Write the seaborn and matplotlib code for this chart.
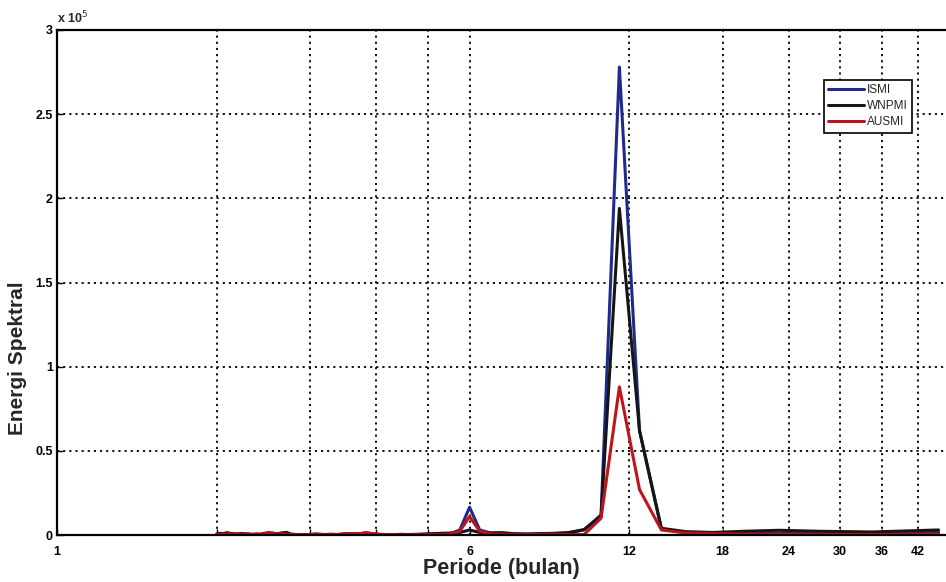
import numpy as np
import pandas as pd
import matplotlib
matplotlib.use("Agg")
import matplotlib.pyplot as plt
import seaborn as sns
from matplotlib.ticker import FixedLocator, FuncFormatter, NullLocator

# periode (bulan), sumbu x log
periode = [2.00, 2.03, 2.06, 2.09, 2.12, 2.16, 2.19, 2.23, 2.26, 2.30,
           2.34, 2.38, 2.42, 2.46, 2.51, 2.56, 2.60, 2.65, 2.71, 2.76,
           2.82, 2.88, 2.94, 3.00, 3.07, 3.14, 3.21, 3.29, 3.37, 3.45,
           3.54, 3.63, 3.73, 3.83, 3.94, 4.06, 4.18, 4.31, 4.45, 4.60,
           4.76, 4.93, 5.11, 5.31, 5.52, 5.75, 6.00, 6.27, 6.57, 6.90,
           7.26, 7.67, 8.12, 8.63, 9.20, 9.86, 10.62, 11.50, 12.55, 13.80,
           15.33, 17.25, 19.71, 23.00, 27.60, 34.50, 46.00]

# energi spektral (x 10^5)
ismi = [0.004, 0.006, 0.005, 0.008, 0.007, 0.005, 0.004, 0.006, 0.005, 0.004,
        0.003, 0.004, 0.003, 0.006, 0.009, 0.007, 0.004, 0.005, 0.006, 0.003,
        0.002, 0.001, 0.001, 0.002, 0.004, 0.003, 0.002, 0.003, 0.002, 0.004,
        0.006, 0.005, 0.007, 0.010, 0.006, 0.003, 0.002, 0.001, 0.002, 0.001,
        0.002, 0.004, 0.005, 0.004, 0.008, 0.030, 0.165, 0.030, 0.012, 0.010,
        0.006, 0.004, 0.006, 0.008, 0.012, 0.030, 0.120, 2.780, 0.620, 0.035,
        0.015, 0.010, 0.008, 0.010, 0.012, 0.008, 0.015]
wnpmi = [0.006, 0.010, 0.008, 0.014, 0.010, 0.007, 0.006, 0.009, 0.007, 0.006,
         0.004, 0.006, 0.005, 0.010, 0.014, 0.011, 0.007, 0.012, 0.016, 0.006,
         0.003, 0.002, 0.002, 0.003, 0.006, 0.004, 0.003, 0.005, 0.003, 0.006,
         0.008, 0.006, 0.008, 0.011, 0.007, 0.004, 0.003, 0.002, 0.004, 0.003,
         0.004, 0.006, 0.008, 0.010, 0.012, 0.015, 0.030, 0.015, 0.012, 0.014,
         0.008, 0.006, 0.008, 0.010, 0.014, 0.032, 0.110, 1.940, 0.620, 0.040,
         0.020, 0.015, 0.022, 0.028, 0.022, 0.018, 0.030]
ausmi = [0.003, 0.005, 0.004, 0.007, 0.006, 0.005, 0.004, 0.005, 0.004, 0.004,
         0.003, 0.004, 0.003, 0.008, 0.012, 0.009, 0.004, 0.006, 0.005, 0.003,
         0.002, 0.001, 0.001, 0.002, 0.004, 0.003, 0.002, 0.003, 0.002, 0.004,
         0.007, 0.006, 0.008, 0.015, 0.008, 0.003, 0.002, 0.001, 0.001, 0.001,
         0.001, 0.002, 0.003, 0.003, 0.006, 0.022, 0.110, 0.022, 0.006, 0.004,
         0.003, 0.002, 0.003, 0.004, 0.003, 0.002, 0.100, 0.880, 0.270, 0.030,
         0.012, 0.008, 0.005, 0.004, 0.004, 0.003, 0.005]

seri = ['ISMI', 'WNPMI', 'AUSMI']
warna = {'ISMI': '#1f2a8c', 'WNPMI': '#151515', 'AUSMI': '#c0141c'}

x_ticks = [1, 2, 3, 4, 5, 6, 12, 18, 24, 30, 36, 42]
x_labels = ['1', '', '', '', '', '6', '12', '18', '24', '30', '36', '42']
y_ticks = [0, 0.5e5, 1e5, 1.5e5, 2e5, 2.5e5, 3e5]

df = pd.DataFrame({
    'periode': periode * 3,
    'energi': [v * 1e5 for v in ismi + wnpmi + ausmi],
    'seri': [s for s in seri for _ in periode],
})

sns.set_style("ticks")
plt.rcParams['font.family'] = ['Liberation Sans', 'DejaVu Sans']

fig = plt.figure(figsize=(9.46, 5.82), dpi=100)
ax = fig.add_axes([57 / 946, 47 / 582, 889 / 946, 505 / 582])

sns.lineplot(data=df, x='periode', y='energi', hue='seri', hue_order=seri,
             palette=warna, estimator=None, sort=True, linewidth=2.2, ax=ax)

ax.set_xscale('log')
ax.set_xlim(1, 47.5)
ax.set_ylim(0, 3e5)
ax.xaxis.set_major_locator(FixedLocator(x_ticks))
ax.xaxis.set_minor_locator(NullLocator())
ax.set_xticklabels(x_labels)
ax.set_yticks(y_ticks)
ax.yaxis.set_major_formatter(FuncFormatter(lambda v, p: f'{v / 1e5:g}'))
ax.tick_params(direction='in', length=4, width=1, labelsize=9, colors='black')
ax.tick_params(axis='x', pad=8)
ax.tick_params(axis='y', pad=3)
for lbl in ax.get_xticklabels() + ax.get_yticklabels():
    lbl.set_fontweight('bold')

ax.grid(True, linestyle=(0, (1.2, 2.2)), color='black', linewidth=1.3)
for s in ['left', 'bottom', 'top']:
    ax.spines[s].set_color('black')
    ax.spines[s].set_linewidth(1.6)
ax.spines['right'].set_visible(False)

ax.text(0.0, 1.008, r'x 10$^5$', transform=ax.transAxes, fontsize=9,
        fontweight='bold', ha='left', va='bottom')

ax.set_xlabel('Periode (bulan)', fontsize=15.5, fontweight='bold', labelpad=0)
ax.set_ylabel('Energi Spektral', fontsize=15, fontweight='bold')
ax.yaxis.set_label_coords(-0.034, 0.35)

leg = ax.legend(loc='upper right', bbox_to_anchor=(912 / 946, 1 - 80 / 582),
                bbox_transform=fig.transFigure, fontsize=8.5, frameon=True,
                fancybox=False, handlelength=3.0, borderpad=0.35,
                labelspacing=0.35, handletextpad=0.3, borderaxespad=0)
leg.get_frame().set_edgecolor('black')
leg.get_frame().set_linewidth(1.2)
leg.get_frame().set_alpha(1)

fig.savefig('out.png', dpi=100)
